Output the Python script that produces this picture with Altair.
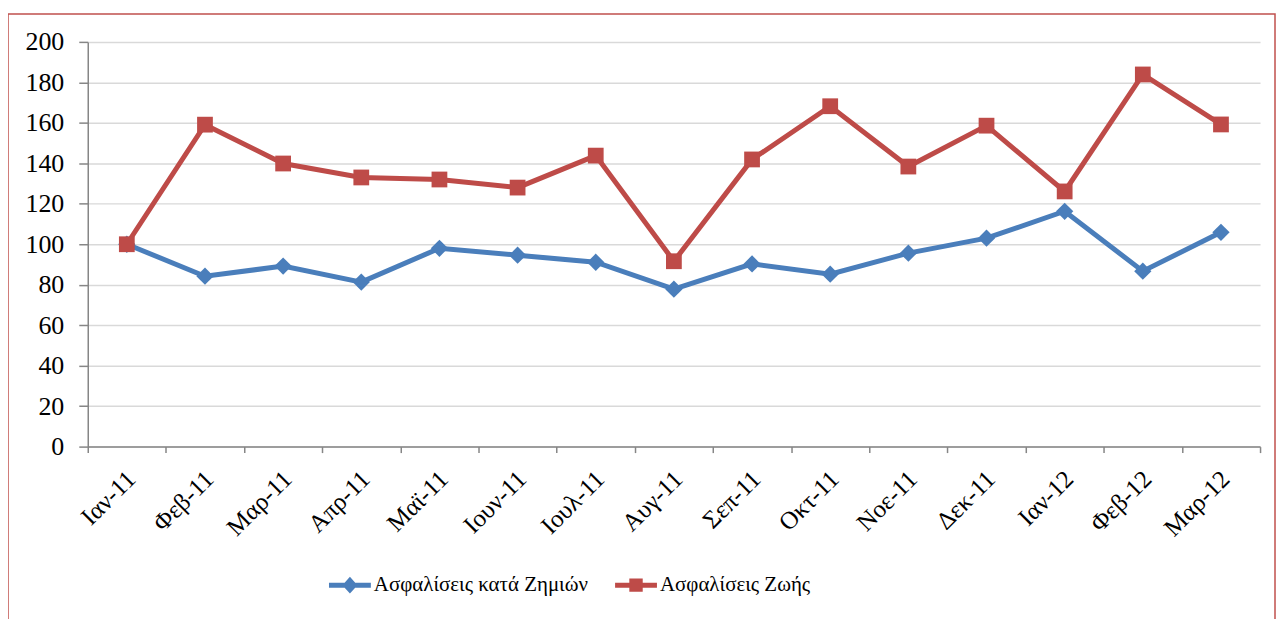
import altair as alt
import pandas as pd

months = ["Ιαν-11", "Φεβ-11", "Μαρ-11", "Απρ-11", "Μαϊ-11", "Ιουν-11", "Ιουλ-11",
          "Αυγ-11", "Σεπ-11", "Οκτ-11", "Νοε-11", "Δεκ-11", "Ιαν-12", "Φεβ-12", "Μαρ-12"]
damage = [100, 84.2, 89.2, 81.3, 98, 94.6, 91.1, 77.8, 90.3, 85.2, 95.6, 103, 116.3, 86.7, 105.9]
life = [100, 159.1, 139.9, 133, 132, 128, 143.8, 91.6, 141.9, 168.2, 138.4, 158.6, 126.1, 183.9, 159.2]
series_names = ["Ασφαλίσεις κατά Ζημιών", "Ασφαλίσεις Ζωής"]
y_ticks = list(range(0, 201, 20))

BLUE = "#4A7EBB"
RED = "#BE4B48"
FONT = "'Liberation Serif', 'DejaVu Serif', serif"

rows = []
for m, v in zip(months, damage):
    rows.append({"month": m, "series": series_names[0], "value": v})
for m, v in zip(months, life):
    rows.append({"month": m, "series": series_names[1], "value": v})
df = pd.DataFrame(rows)

x_enc = alt.X(
    "month:N", sort=months, bandPosition=0.5,
    scale=alt.Scale(type="band", domain=months, paddingInner=0, paddingOuter=0),
    axis=alt.Axis(title=None, labelAngle=-45, labelAlign="right", labelBaseline="middle",
                  labelFont=FONT, labelFontSize=25, labelColor="black",
                  labelPadding=22, labelOffset=4, tickBand="extent", tickSize=6,
                  tickColor="#868686", domainColor="#868686", domainWidth=1.5,
                  tickWidth=1.5, grid=False, labelOverlap=False),
)
y_enc = alt.Y(
    "value:Q", scale=alt.Scale(domain=[0, 200]),
    axis=alt.Axis(title=None, values=y_ticks, grid=True, gridColor="#D9D9D9", gridWidth=1.5,
                  domainColor="#868686", domainWidth=1.5, tickColor="#868686", tickWidth=1.5,
                  tickSize=9, labelFont=FONT, labelFontSize=26, labelColor="black",
                  labelPadding=15),
)
color_scale = alt.Scale(domain=series_names, range=[BLUE, RED])

base = alt.Chart(df).encode(x=x_enc, y=y_enc)

blue_line = base.transform_filter(alt.datum.series == series_names[0]).mark_line(
    strokeWidth=5, color=BLUE)
red_line = base.transform_filter(alt.datum.series == series_names[1]).mark_line(
    strokeWidth=5, color=RED)
blue_pts = base.transform_filter(alt.datum.series == series_names[0]).mark_point(
    shape="diamond", filled=True, size=300, color=BLUE, opacity=1)
red_pts = base.transform_filter(alt.datum.series == series_names[1]).mark_point(
    shape="square", filled=True, size=250, color=RED, opacity=1)

diamond_sym = "M-1,-0.12 L1,-0.12 L1,0.12 L-1,0.12 Z M0,-0.4 L0.36,0 L0,0.4 L-0.36,0 Z"
square_sym = "M-1,-0.12 L1,-0.12 L1,0.12 L-1,0.12 Z M-0.32,-0.32 L0.32,-0.32 L0.32,0.32 L-0.32,0.32 Z"
leg = alt.Legend(title=None, orient="none", legendX=242, legendY=524, direction="horizontal",
                 labelFont=FONT, labelFontSize=21, labelColor="black", symbolSize=1764,
                 symbolStrokeWidth=0, labelOffset=3, columnPadding=27, labelLimit=400)
legend_layer = base.transform_filter("false").mark_point(filled=True, opacity=1).encode(
    color=alt.Color("series:N", scale=color_scale, legend=leg),
    shape=alt.Shape("series:N", scale=alt.Scale(domain=series_names, range=[diamond_sym, square_sym]),
                    legend=leg),
)

frame = alt.Chart(pd.DataFrame({"k": [0]})).mark_rect(
    fill="transparent", stroke="#C0504D", strokeWidth=1.5
).encode(x=alt.value(-80), x2=alt.value(1191), y=alt.value(-28), y2=alt.value(640))

chart = alt.layer(frame, blue_line, red_line, blue_pts, red_pts, legend_layer).properties(
    width=1176, height=406,
    autosize=alt.AutoSizeParams(type="none"),
    padding={"left": 80, "top": 33, "right": 16, "bottom": 190},
).configure_view(stroke="transparent")

chart.save("out.html", embed_options={"renderer": "svg", "actions": False})
